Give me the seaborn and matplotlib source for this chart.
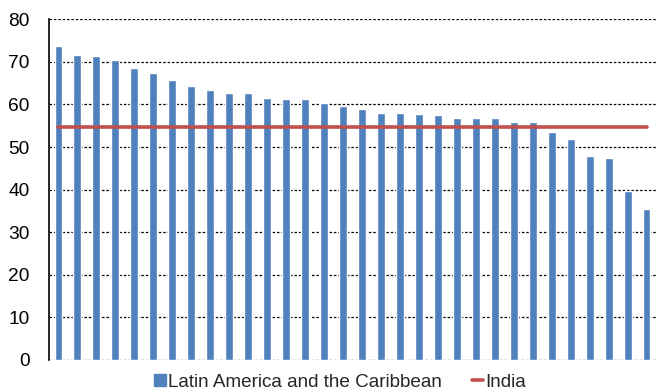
import matplotlib
matplotlib.use("Agg")
import matplotlib.pyplot as plt
import seaborn as sns
import pandas as pd
from matplotlib.lines import Line2D

countries = [f"C{i+1}" for i in range(32)]
lac_values = [73.8, 71.6, 71.3, 70.5, 68.6, 67.3, 65.8, 64.3, 63.5, 62.8,
              62.6, 61.5, 61.2, 61.2, 60.3, 59.7, 59.0, 58.1, 57.9, 57.7,
              57.5, 56.9, 56.9, 56.8, 55.8, 55.8, 53.5, 51.8, 47.8, 47.5,
              39.6, 35.5]
india_value = 54.7
yticks = [0, 10, 20, 30, 40, 50, 60, 70, 80]

sns.set_theme(style="white")
plt.rcParams['font.family'] = ['Liberation Sans', 'DejaVu Sans']

df = pd.DataFrame({"country": countries, "value": lac_values})
india_df = pd.DataFrame({"pos": list(range(len(countries))), "value": [india_value] * len(countries)})

fig = plt.figure(figsize=(6.57, 3.92), dpi=100)
ax = fig.add_axes([49/657, 32/392, 607/657, (360-19.3)/392])

bar_color = "#4F81BD"
line_color = "#C0504D"

sns.barplot(data=df, x="country", y="value", color=bar_color, width=0.42,
            saturation=1, ax=ax, zorder=3)
sns.lineplot(data=india_df, x="pos", y="value", color=line_color, linewidth=2.6,
             ax=ax, zorder=4)

ax.set_ylim(0, 80)
ax.set_xlim(-0.5, len(countries) - 0.5)
ax.set_yticks(yticks)
ax.set_yticklabels([str(t) for t in yticks], fontsize=13.8)
ax.set_xticks([])
ax.set_xlabel("")
ax.set_ylabel("")
ax.tick_params(axis='y', length=0, pad=14, colors="black")
for yv in yticks:
    ax.axhline(yv, color="black", linestyle=(0, (2, 1.5)), linewidth=0.9, zorder=1)

for s in ["top", "right", "bottom"]:
    ax.spines[s].set_visible(False)
ax.spines["left"].set_color("black")
ax.spines["left"].set_linewidth(1.2)

handles = [
    Line2D([0], [0], marker='s', color='none', markerfacecolor=bar_color,
           markeredgecolor=bar_color, markersize=9, linestyle='none'),
    Line2D([0], [0], color=line_color, linewidth=2.6),
]
fig.legend(handles, ["Latin America and the Caribbean", "India"], loc="center",
           bbox_to_anchor=(0.518, 0.025), ncol=2, frameon=False, fontsize=13.6,
           handlelength=0.6, handletextpad=0.1, columnspacing=1.6, borderaxespad=0)

fig.savefig("out.png", dpi=100)
